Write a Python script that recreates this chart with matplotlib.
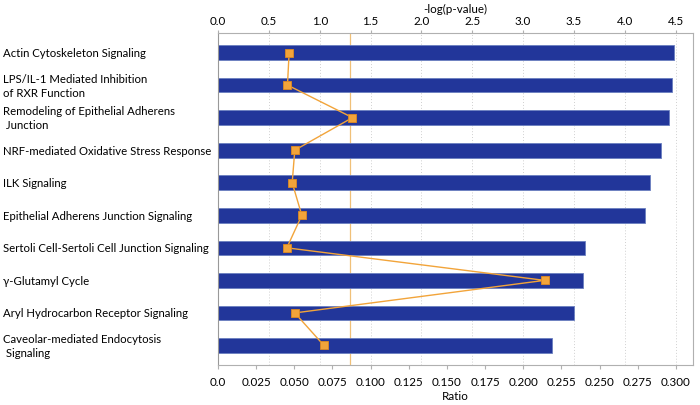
import numpy as np
import matplotlib.pyplot as plt

plt.rcParams['font.family'] = ['Lato', 'DejaVu Sans']

pathways = [
    "Actin Cytoskeleton Signaling",
    "LPS/IL-1 Mediated Inhibition\nof RXR Function",
    "Remodeling of Epithelial Adherens\n Junction",
    "NRF-mediated Oxidative Stress Response",
    "ILK Signaling",
    "Epithelial Adherens Junction Signaling",
    "Sertoli Cell-Sertoli Cell Junction Signaling",
    "\u03b3-Glutamyl Cycle",
    "Aryl Hydrocarbon Receptor Signaling",
    "Caveolar-mediated Endocytosis\n Signaling",
]
neg_log_p = [4.48, 4.46, 4.43, 4.36, 4.25, 4.20, 3.61, 3.59, 3.50, 3.28]
ratio = [0.0466, 0.0455, 0.0881, 0.0503, 0.0486, 0.0549, 0.0451, 0.2139, 0.0503, 0.0694]
threshold = 1.3

top_ticks = [0.0, 0.5, 1.0, 1.5, 2.0, 2.5, 3.0, 3.5, 4.0, 4.5]
ratio_ticks = [0.0, 0.025, 0.05, 0.075, 0.1, 0.125, 0.15, 0.175, 0.2, 0.225, 0.25, 0.275, 0.3]
ratio_labels = ["0.0", "0.025", "0.050", "0.075", "0.100", "0.125", "0.150", "0.175",
                "0.200", "0.255", "0.250", "0.275", "0.300"]

bar_color = "#22369a"
orange = "#f2a43a"
grid_color = "#d0d0d0"
spine_color = "#b0b0b0"

fig = plt.figure(figsize=(7.0, 4.06), dpi=100)
ax = fig.add_axes([218 / 700, 1 - 366 / 406, 475 / 700, 332 / 406])

y = np.arange(len(pathways))
ax.barh(y, neg_log_p, height=0.45, color=bar_color, edgecolor="#6a7fc0", linewidth=0.6, zorder=2)
ax.set_ylim(len(pathways) - 0.4, -0.6)
ax.set_xlim(0, 4.67)
for t in top_ticks[1:]:
    ax.axvline(t, color=grid_color, linestyle=(0, (1, 2)), linewidth=0.7, zorder=0)
ax.axvline(threshold, color="#f0c078", linewidth=0.9, zorder=1)

ax.set_yticks(y)
ax.set_yticklabels(pathways, fontsize=8.2, ha="left", va="center", linespacing=1.35)
ax.tick_params(axis="y", length=0, pad=155)

for s in ax.spines.values():
    s.set_color(spine_color)
    s.set_linewidth(0.8)
ax.spines["left"].set_color("#999999")

ax2 = ax.twiny()
ax2.set_xlim(0, 0.3 + 17 / 38.1 * 0.025)
ax2.plot(ratio, y, color=orange, linewidth=1.0, marker="s", markersize=6,
         markerfacecolor=orange, markeredgecolor="#e08a20", markeredgewidth=0.6, zorder=3)
ax2.xaxis.tick_bottom()
ax2.xaxis.set_label_position("bottom")
ax2.set_xticks(ratio_ticks)
ax2.set_xticklabels(ratio_labels, fontsize=8.4)
ax2.tick_params(axis="x", length=3, color=spine_color, pad=5)
ax2.set_xlabel("Ratio", fontsize=8.4)
ax2.xaxis.labelpad = 2
for s in ax2.spines.values():
    s.set_visible(False)

# twiny moves the original axis to the bottom, so put it back on top
ax.xaxis.tick_top()
ax.xaxis.set_label_position("top")
ax.set_xticks(top_ticks)
ax.set_xticklabels(["%.1f" % t for t in top_ticks], fontsize=8.4)
ax.set_xlabel("-log(p-value)", fontsize=8.4)
ax.xaxis.labelpad = 2
ax.tick_params(axis="x", which="both", length=2, color=spine_color, pad=3)

fig.savefig("out.png", dpi=100)
